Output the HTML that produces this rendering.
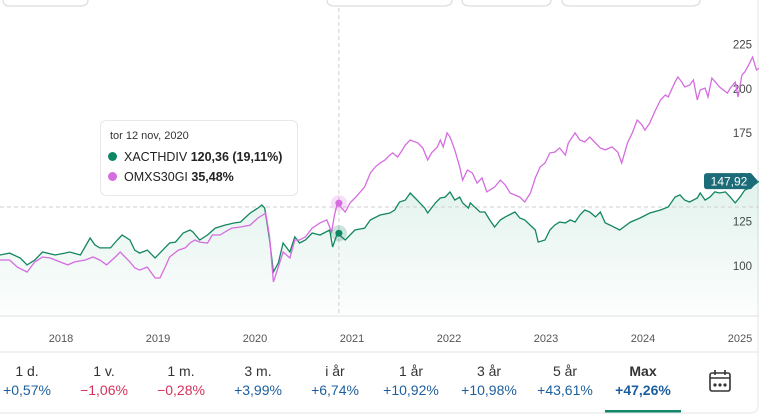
<!DOCTYPE html>
<html><head><meta charset="utf-8"><style>
html,body{margin:0;padding:0;background:#fff;width:759px;height:415px;overflow:hidden;font-family:"Liberation Sans",sans-serif}
.tab{position:absolute;top:362px;width:76px;text-align:center;font-size:14px;color:#333;line-height:19px}
.tab .p{color:#1d5f9e}
.tab .n{color:#d2335c}
</style></head><body>
<svg width="759" height="415" style="position:absolute;left:0;top:0">
<defs><linearGradient id="gf" x1="0" y1="0" x2="0" y2="1"><stop offset="0" stop-color="#0a9466" stop-opacity="0.12"/><stop offset="1" stop-color="#0a9466" stop-opacity="0.01"/></linearGradient></defs>
<g fill="none" stroke="#dcdcdc" stroke-width="1.2">
<path d="M3,-5 V0 Q3,6 10,6 H80 Q88,6 88,0 V-5"/>
<path d="M327,-5 V0 Q327,6 335,6 H444 Q452,6 452,0 V-5"/>
<path d="M462,-5 V0 Q462,6 470,6 H543 Q551,6 551,0 V-5"/>
<path d="M562,-5 V0 Q562,6 570,6 H692 Q700,6 700,0 V-5"/>
</g>
<line x1="758" y1="0" x2="758" y2="408" stroke="#e6e6e6"/>
<g id="yt"></g><g id="xt"></g>
<line x1="0" y1="316" x2="759" y2="316" stroke="#e2e2e2"/>
<line x1="0" y1="352" x2="759" y2="352" stroke="#e6e6e6"/>
<path id="fill" fill="url(#gf)"/>
<line id="hline" x1="0" x2="759" stroke="#cfcfcf" stroke-dasharray="4,3"/>
<line id="vline" y1="8" y2="316" stroke="#cfcfcf" stroke-dasharray="4,3"/>
<path id="gline" fill="none" stroke="#13865f" stroke-width="1.3"/>
<path id="pline" fill="none" stroke="#d56ce0" stroke-width="1.3"/>
<g id="dots"></g>
<g id="plabel"></g>
<rect x="605" y="410" width="76" height="3" fill="#12876a"/>
<path d="M0,413 H750 Q758,413 758,405" fill="none" stroke="#e6e6e6"/>
<g fill="none" stroke="#333" stroke-width="1.6">
<rect x="710" y="373" width="20" height="18" rx="2"/><line x1="710" y1="378" x2="730" y2="378"/><line x1="715" y1="370" x2="715" y2="375"/><line x1="725" y1="370" x2="725" y2="375"/>
<circle cx="715" cy="385" r="0.8" fill="#333"/><circle cx="720" cy="385" r="0.8" fill="#333"/><circle cx="725" cy="385" r="0.8" fill="#333"/>
</g>
</svg>
<div style="position:absolute;left:100px;top:120px;width:196px;height:74px;border:1px solid #e8e8e8;border-radius:6px;background:rgba(255,255,255,0.95);font-size:12.5px;color:#222">
<div style="position:absolute;left:9px;top:9px;font-size:11px;color:#333">tor 12 nov, 2020</div>
<div style="position:absolute;left:7px;top:29px;white-space:nowrap"><span style="display:inline-block;width:9px;height:9px;border-radius:50%;background:#0d8663;margin-right:7px"></span>XACTHDIV <b>120,36 (19,11%)</b></div>
<div style="position:absolute;left:7px;top:49px;white-space:nowrap"><span style="display:inline-block;width:9px;height:9px;border-radius:50%;background:#d56ce0;margin-right:7px"></span>OMXS30GI <b>35,48%</b></div>
</div>
<div class="tab" style="left:-11px">1 d.<br><span class="p">+0,57%</span></div>
<div class="tab" style="left:66px">1 v.<br><span class="n">−1,06%</span></div>
<div class="tab" style="left:143px">1 m.<br><span class="n">−0,28%</span></div>
<div class="tab" style="left:220px">3 m.<br><span class="p">+3,99%</span></div>
<div class="tab" style="left:297px">i år<br><span class="p">+6,74%</span></div>
<div class="tab" style="left:373px">1 år<br><span class="p">+10,92%</span></div>
<div class="tab" style="left:451px">3 år<br><span class="p">+10,98%</span></div>
<div class="tab" style="left:527px">5 år<br><span class="p">+43,61%</span></div>
<div class="tab" style="left:605px;font-weight:bold">Max<br><span class="p">+47,26%</span></div>
<script>
const yTicks=[100,125,150,175,200,225];
const xYears=[2018,2019,2020,2021,2022,2023,2024,2025];
const gT=[2017.37,2017.47,2017.58,2017.65,2017.73,2017.81,2017.94,2018.04,2018.09,2018.20,2018.30,2018.35,2018.40,2018.51,2018.58,2018.63,2018.71,2018.76,2018.81,2018.89,2018.97,2019.07,2019.12,2019.18,2019.26,2019.33,2019.36,2019.43,2019.51,2019.59,2019.69,2019.79,2019.85,2019.95,2020.03,2020.07,2020.10,2020.15,2020.19,2020.24,2020.29,2020.36,2020.41,2020.46,2020.52,2020.59,2020.67,2020.77,2020.80,2020.85,2020.93,2021.03,2021.13,2021.19,2021.29,2021.39,2021.44,2021.49,2021.55,2021.60,2021.65,2021.70,2021.75,2021.78,2021.86,2021.91,2021.96,2022.01,2022.06,2022.11,2022.14,2022.20,2022.22,2022.32,2022.37,2022.42,2022.47,2022.53,2022.58,2022.68,2022.73,2022.78,2022.89,2022.92,2022.99,2023.04,2023.09,2023.14,2023.20,2023.25,2023.30,2023.35,2023.40,2023.45,2023.51,2023.56,2023.61,2023.66,2023.76,2023.87,2023.97,2024.07,2024.18,2024.26,2024.33,2024.38,2024.43,2024.48,2024.56,2024.59,2024.64,2024.69,2024.74,2024.79,2024.85,2024.90,2024.95,2025.00,2025.05,2025.10,2025.20];
const gV=[106.2,107.3,104.5,100.6,103.4,107.9,106.2,107.3,107.9,106.2,115.8,111.9,110.2,110.2,114.7,117.5,114.7,109.0,107.3,109.0,104.5,110.2,113.0,113.5,118.6,120.3,119.2,114.7,117.5,121.4,123.1,124.3,124.8,129.9,132.7,134.4,132.7,114.7,96.6,101.7,113.0,107.9,116.4,113.0,114.7,118.6,117.5,120.3,110.7,118.5,114.7,120.3,121.4,126.0,128.8,129.9,131.6,136.1,137.2,141.2,138.4,135.6,132.7,129.9,135.6,138.4,138.9,141.8,137.2,138.9,135.6,132.7,135.6,130.5,130.5,126.0,122.0,126.0,127.7,130.5,127.1,126.0,120.3,113.5,114.7,120.3,123.1,124.8,124.3,126.0,124.8,128.8,131.6,130.5,127.7,130.5,124.3,123.1,120.3,124.8,127.1,129.9,131.6,133.3,138.9,140.1,137.2,136.1,138.4,141.2,137.2,138.9,141.8,141.2,141.8,138.9,135.6,138.9,142.9,144.0,147.92];
const pT=[2017.37,2017.47,2017.55,2017.65,2017.73,2017.81,2017.89,2017.99,2018.07,2018.14,2018.25,2018.33,2018.40,2018.47,2018.56,2018.61,2018.66,2018.71,2018.76,2018.81,2018.89,2018.97,2019.02,2019.07,2019.12,2019.21,2019.28,2019.33,2019.38,2019.43,2019.51,2019.56,2019.64,2019.69,2019.76,2019.85,2019.95,2020.03,2020.08,2020.11,2020.15,2020.19,2020.24,2020.29,2020.36,2020.41,2020.46,2020.52,2020.59,2020.67,2020.74,2020.79,2020.82,2020.85,2020.93,2020.98,2021.03,2021.13,2021.19,2021.24,2021.29,2021.34,2021.39,2021.42,2021.47,2021.52,2021.55,2021.60,2021.68,2021.73,2021.78,2021.82,2021.88,2021.91,2021.94,2021.98,2022.01,2022.06,2022.11,2022.14,2022.19,2022.24,2022.29,2022.34,2022.39,2022.47,2022.53,2022.58,2022.63,2022.73,2022.78,2022.84,2022.89,2022.94,2022.99,2023.04,2023.09,2023.14,2023.20,2023.23,2023.30,2023.35,2023.40,2023.45,2023.51,2023.56,2023.61,2023.68,2023.74,2023.78,2023.84,2023.89,2023.94,2023.99,2024.02,2024.07,2024.12,2024.18,2024.23,2024.26,2024.33,2024.36,2024.40,2024.43,2024.48,2024.52,2024.56,2024.59,2024.64,2024.67,2024.71,2024.79,2024.87,2024.90,2024.95,2024.98,2025.02,2025.05,2025.10,2025.13,2025.17,2025.20];
const pV=[103.4,103.4,99.4,96.6,102.3,105.1,104.5,102.3,100.6,102.3,103.4,105.1,103.4,100.6,105.1,107.9,105.1,102.3,98.9,97.7,99.4,93.2,93.2,98.9,105.1,109.0,110.2,113.0,114.7,113.5,113.0,117.5,117.5,119.2,121.4,122.0,123.1,127.1,128.8,129.9,116.4,91.0,99.4,107.9,104.5,114.7,114.7,116.4,121.4,124.3,126.0,119.2,128.8,135.5,130.5,135.6,138.4,144.6,152.5,155.9,158.1,159.8,162.6,163.8,161.5,165.5,168.3,171.1,169.4,166.6,159.8,163.8,167.2,171.1,167.2,175.1,172.8,165.5,155.9,148.5,154.2,152.5,146.8,149.7,141.8,144.6,148.5,145.7,141.2,138.9,136.1,141.2,149.7,155.9,158.1,163.8,164.3,166.6,162.6,169.4,175.1,171.1,170.0,172.8,169.4,166.6,165.5,167.2,164.3,158.1,169.4,175.1,182.4,179.6,176.7,180.7,186.9,193.7,196.5,195.4,203.8,206.7,203.8,201.0,202.1,205.0,193.7,199.3,200.4,195.4,206.1,201.0,197.6,200.4,203.8,195.4,207.8,209.5,214.6,217.9,210.6,211.7];
const hoverT=2020.865, hoverG=118.5, hoverP=135.5, lastPrice="147,92";
const X=t=>61+(t-2018)*97.0;
const Y=v=>266-(v-100)*1.772;
const NS="http://www.w3.org/2000/svg";
function mk(tag,attrs,parent){const e=document.createElementNS(NS,tag);for(const k in attrs)e.setAttribute(k,attrs[k]);parent.appendChild(e);return e;}
const yt=document.getElementById('yt');
yTicks.forEach(v=>{const t=mk('text',{x:752,y:Y(v)+4,'text-anchor':'end','font-size':'11.5',fill:'#444'},yt);


t.textContent=v;});
const xt=document.getElementById('xt');
xYears.forEach(y=>{const t=mk('text',{x:X(y),y:342,'text-anchor':'middle','font-size':'11',fill:'#555'},xt);


t.textContent=y;});
const path=(T,V)=>T.map((t,i)=>(i?'L':'M')+X(t).toFixed(1)+','+Y(V[i]).toFixed(1)).join('');
document.getElementById('gline').setAttribute('d',path(gT,gV));
document.getElementById('pline').setAttribute('d',path(pT,pV));
document.getElementById('fill').setAttribute('d',path(gT,gV)+'L'+X(gT[gT.length-1])+',316L'+X(gT[0])+',316Z');
const hx=X(hoverT);
const hl=document.getElementById('hline');hl.setAttribute('y1',207);hl.setAttribute('y2',207);
const vl=document.getElementById('vline');vl.setAttribute('x1',hx);vl.setAttribute('x2',hx);
const dots=document.getElementById('dots');
[[hoverP,'#d56ce0'],[hoverG,'#0d8663']].forEach(([v,c])=>{
const h=mk('circle',{cx:hx,cy:Y(v),r:8,fill:c,'fill-opacity':0.22},dots);


const d=mk('circle',{cx:hx,cy:Y(v),r:3.5,fill:c},dots);

});
const pl=document.getElementById('plabel');const ly=Y(gV[gV.length-1]);
mk('path',{d:`M707,${ly-8} H751 L758,${ly} L751,${ly+8} H707 Q704,${ly+8} 704,${ly+5} V${ly-5} Q704,${ly-8} 707,${ly-8}Z`,fill:'#1b6b78'},pl);
const lt=mk('text',{x:729,y:ly+4.5,'text-anchor':'middle','font-size':'12',fill:'#fff'},pl);
lt.textContent=lastPrice;
</script>
</body></html>
